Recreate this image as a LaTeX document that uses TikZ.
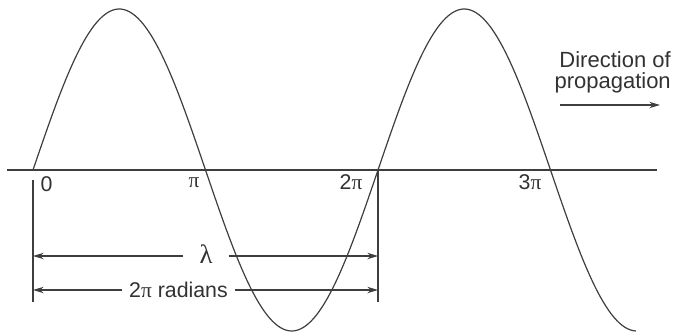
\documentclass[tikz,border=0pt]{standalone}
\usepackage{fontspec}
\setmainfont{Liberation Sans}
\newfontfamily\greekfont{Liberation Serif}
\usepackage{tikz}
\usetikzlibrary{arrows.meta,positioning}
\definecolor{waveink}{RGB}{62,62,62}
\definecolor{labelink}{RGB}{50,50,50}
\tikzset{
    % Thin ink line for axis, wave and extension lines
    inkline/.style={draw=waveink, line width=0.9pt},
    % Phase marks under the axis
    phaselabel/.style={font=\fontsize{16}{17}\selectfont, text=labelink, inner sep=0pt},
    % Dimension arrows (lambda, radians)
    dimarrow/.style={-{Stealth[length=8pt,width=4.8pt]}, line width=0.9pt, draw=waveink},
}

\begin{document}
\begin{tikzpicture}[x=0.75pt,y=-0.75pt]
  \useasboundingbox (0,0) rectangle (674,332);
  % axis and wave
  \coordinate (axL) at (7,170);
  \coordinate (axR) at (657,170);
  \draw[inkline] (axL) -- (axR);
  \draw[inkline] plot[domain=33:636,samples=220,smooth]
    (\x,{170-161*sin((\x-33)/345*360)});
  % phase labels
  \node[phaselabel] (zero)  at (46.5,184) {0};
  \node[phaselabel] (pi1)   at (194,183)  {\greekfont π};
  \node[phaselabel] (pi2)   at (351,182.5) {2{\greekfont π}};
  \node[phaselabel] (pi3)   at (530,182.5) {3{\greekfont π}};
  % extension lines
  \coordinate (zeroTop) at (33,180);
  \coordinate (zeroBot) at (33,302);
  \coordinate (twoTop)  at (378,170);
  \coordinate (twoBot)  at (378,302);
  \draw[inkline] (zeroTop) -- (zeroBot);
  \draw[inkline] (twoTop) -- (twoBot);
  % wavelength and radians
  \coordinate (lamL) at (33,256);
  \coordinate (lamR) at (378,256);
  \coordinate (radL) at (33,290);
  \coordinate (radR) at (378,290);
  \node[phaselabel,font=\fontsize{20}{20}\selectfont,inner xsep=12pt] (lam) at (206,254) {\greekfont λ};
  \node[phaselabel,inner xsep=5pt] (rad) at (178.5,290) {2{\greekfont π} radians};
  \draw[dimarrow] (lam.west |- lamL) -- (lamL);
  \draw[dimarrow] (lam.east |- lamR) -- (lamR);
  \draw[dimarrow] (rad) -- (radL);
  \draw[dimarrow] (rad) -- (radR);
  % direction of travel
  \node[phaselabel,font=\fontsize{16.5}{16}\selectfont,align=right,anchor=north east]
    (dir) at (671,51) {Direction of\\propagation};
  \coordinate (dirS) at (560,105);
  \coordinate (dirE) at (660,105);
  \draw[dimarrow] (dirS) -- (dirE);
\end{tikzpicture}
\end{document}
